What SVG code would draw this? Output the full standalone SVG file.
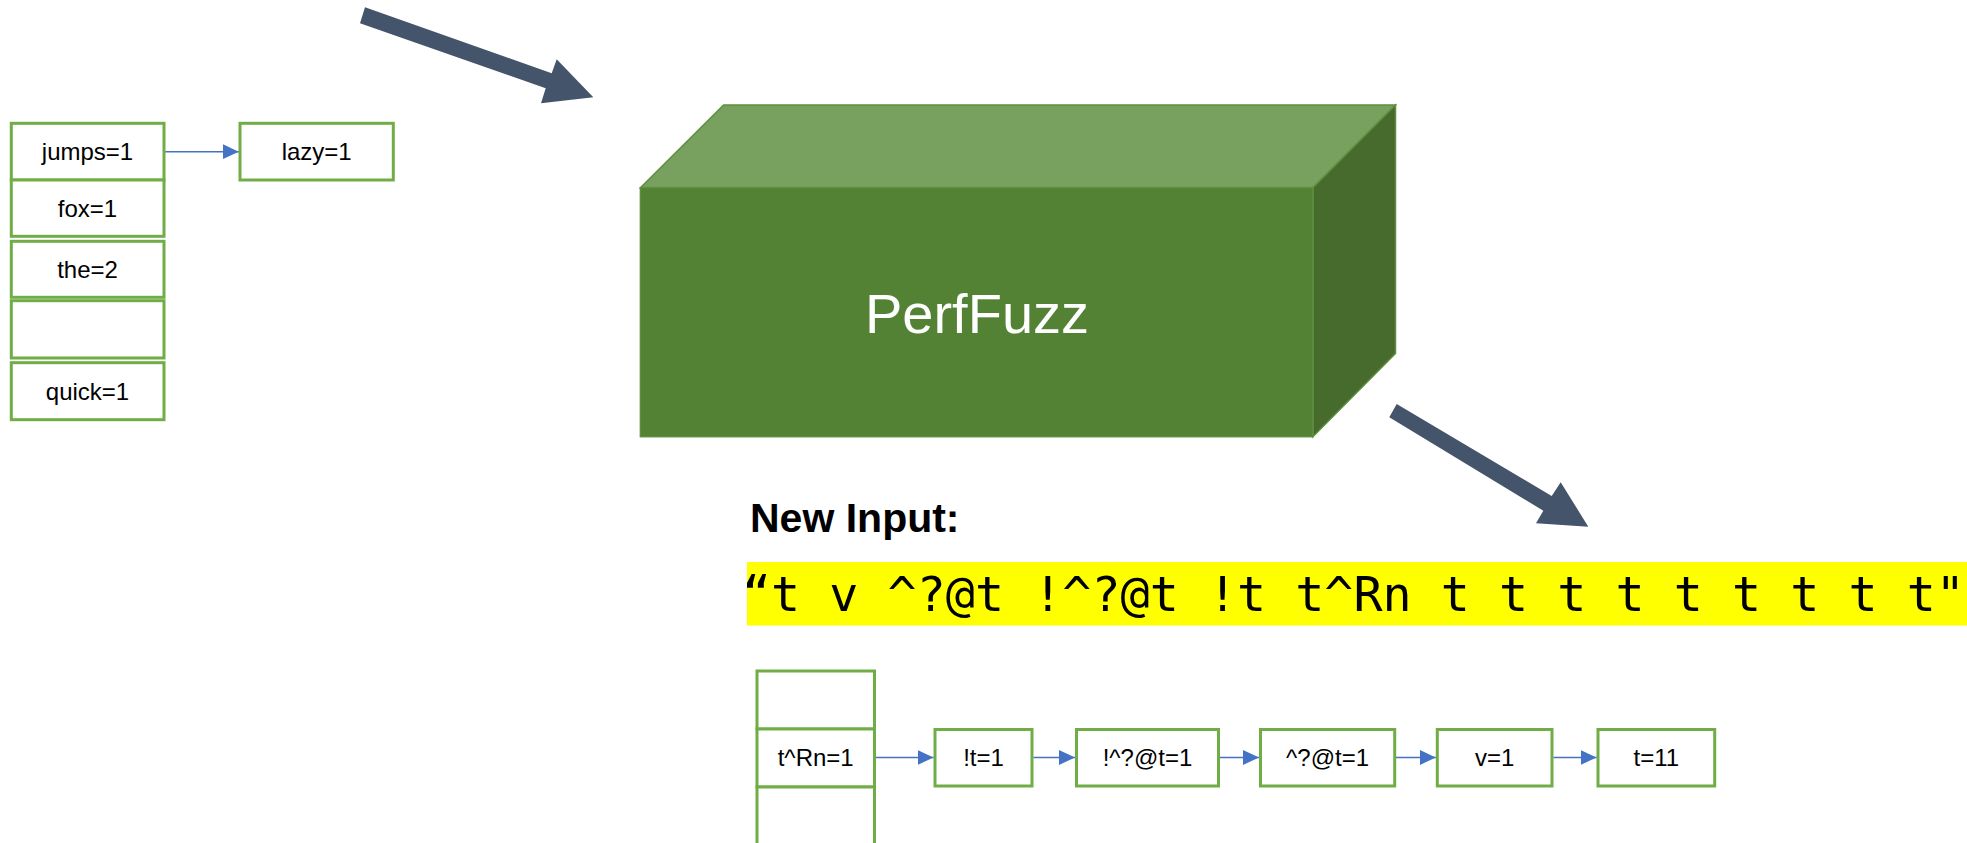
<svg xmlns="http://www.w3.org/2000/svg" width="1967" height="843" viewBox="0 0 1967 843">
  <style>
    .cell { fill: #ffffff; stroke: #70ad47; stroke-width: 3; }
    .lbl { font-family: "Liberation Sans", Arial, sans-serif; font-size: 24px; fill: #000000; text-anchor: middle; }
    .link { stroke: #4472c4; stroke-width: 1.6; fill: none; marker-end: url(#head); }
    .flow { fill: #44546a; }
  </style>
  <defs>
    <marker id="head" viewBox="0 0 16 16" refX="16" refY="8" markerWidth="16" markerHeight="16" markerUnits="userSpaceOnUse" orient="auto">
      <path d="M0,0.5 L16,8 L0,15.5 z" fill="#4472c4"/>
    </marker>
  </defs>

  <!-- big flow arrows -->
  <g id="flow-arrows">
    <polygon class="flow" points="365,7.3 551.7,73.3 556.7,59.3 593.3,97.3 541,103.3 545.7,88.3 360,23.3"/>
    <polygon class="flow" points="1396.7,404 1551.7,496 1560.7,482.3 1588.3,526.7 1536,523.3 1543.3,510.7 1389.3,417.3"/>
  </g>

  <!-- fuzzer block -->
  <g id="perffuzz">
    <polygon points="640.4,187.7 723.6,105 1395.5,105 1312.9,187.7" fill="#78a05f" stroke="#5f8f3e" stroke-width="1.5"/>
    <polygon points="1312.9,187.7 1395.5,105 1395.5,353.5 1312.9,436.7" fill="#466b2c" stroke="#5f8f3e" stroke-width="1.5"/>
    <rect x="640.4" y="187.7" width="672.5" height="249" fill="#548235" stroke="#5f8f3e" stroke-width="1.5"/>
    <text x="977" y="333" font-family="Liberation Sans, Arial, sans-serif" font-size="56" fill="#ffffff" text-anchor="middle">PerfFuzz</text>
  </g>

  <!-- original hash table -->
  <g id="old-bucket-jumps">
    <rect class="cell" x="11.3" y="123.3" width="152.7" height="56.7"/>
    <text class="lbl" x="87.5" y="160">jumps=1</text>
  </g>
  <g id="old-bucket-fox">
    <rect class="cell" x="11.3" y="180" width="152.7" height="56.3"/>
    <text class="lbl" x="87.5" y="216.5">fox=1</text>
  </g>
  <g id="old-bucket-the">
    <rect class="cell" x="11.3" y="241.3" width="152.7" height="56"/>
    <text class="lbl" x="87.5" y="277.8">the=2</text>
  </g>
  <g id="old-bucket-empty">
    <rect class="cell" x="11.3" y="300.7" width="152.7" height="57.3"/>
  </g>
  <g id="old-bucket-quick">
    <rect class="cell" x="11.3" y="362.7" width="152.7" height="57"/>
    <text class="lbl" x="87.5" y="399.5">quick=1</text>
  </g>
  <g id="old-chain-lazy">
    <rect class="cell" x="240" y="123.3" width="153.3" height="56.7"/>
    <text class="lbl" x="316.7" y="160">lazy=1</text>
  </g>

  <!-- new input -->
  <g id="new-input">
    <text x="750" y="531.5" font-family="Liberation Sans, Arial, sans-serif" font-size="41" font-weight="bold" fill="#000000">New Input:</text>
    <rect x="747" y="562" width="1220" height="63.5" fill="#ffff00"/>
    <text x="742" y="611" font-family="DejaVu Sans Mono, Liberation Mono, monospace" font-size="48.4" fill="#000000" textLength="1223" lengthAdjust="spacingAndGlyphs" xml:space="preserve">“t v ^?@t !^?@t !t t^Rn t t t t t t t t t"</text>
  </g>

  <!-- resulting hash table -->
  <g id="new-bucket-top">
    <rect class="cell" x="757" y="671" width="117.5" height="58"/>
  </g>
  <g id="new-bucket-tRn">
    <rect class="cell" x="757" y="729" width="117.5" height="58"/>
    <text class="lbl" x="815.7" y="766">t^Rn=1</text>
  </g>
  <g id="new-bucket-bottom">
    <rect class="cell" x="757" y="787" width="117.5" height="70"/>
  </g>
  <g id="chain-bang-t">
    <rect class="cell" x="935" y="729.5" width="97" height="56.5"/>
    <text class="lbl" x="983.5" y="766">!t=1</text>
  </g>
  <g id="chain-bang-caret">
    <rect class="cell" x="1076.5" y="729.5" width="142" height="56.5"/>
    <text class="lbl" x="1147.5" y="766">!^?@t=1</text>
  </g>
  <g id="chain-caret">
    <rect class="cell" x="1260.5" y="729.5" width="134.2" height="56.5"/>
    <text class="lbl" x="1327.6" y="766">^?@t=1</text>
  </g>
  <g id="chain-v">
    <rect class="cell" x="1437.3" y="729.5" width="114.7" height="56.5"/>
    <text class="lbl" x="1494.6" y="766">v=1</text>
  </g>
  <g id="chain-t">
    <rect class="cell" x="1598" y="729.5" width="116.7" height="56.5"/>
    <text class="lbl" x="1656.3" y="766">t=11</text>
  </g>

  <!-- chain links -->
  <g id="connectors">
    <line class="link" x1="165.3" y1="151.7" x2="238.7" y2="151.7"/>
    <line class="link" x1="876" y1="757.5" x2="933.5" y2="757.5"/>
    <line class="link" x1="1033.5" y1="757.5" x2="1075" y2="757.5"/>
    <line class="link" x1="1220" y1="757.5" x2="1259" y2="757.5"/>
    <line class="link" x1="1396" y1="757.5" x2="1435.8" y2="757.5"/>
    <line class="link" x1="1553.5" y1="757.5" x2="1596.5" y2="757.5"/>
  </g>
</svg>
